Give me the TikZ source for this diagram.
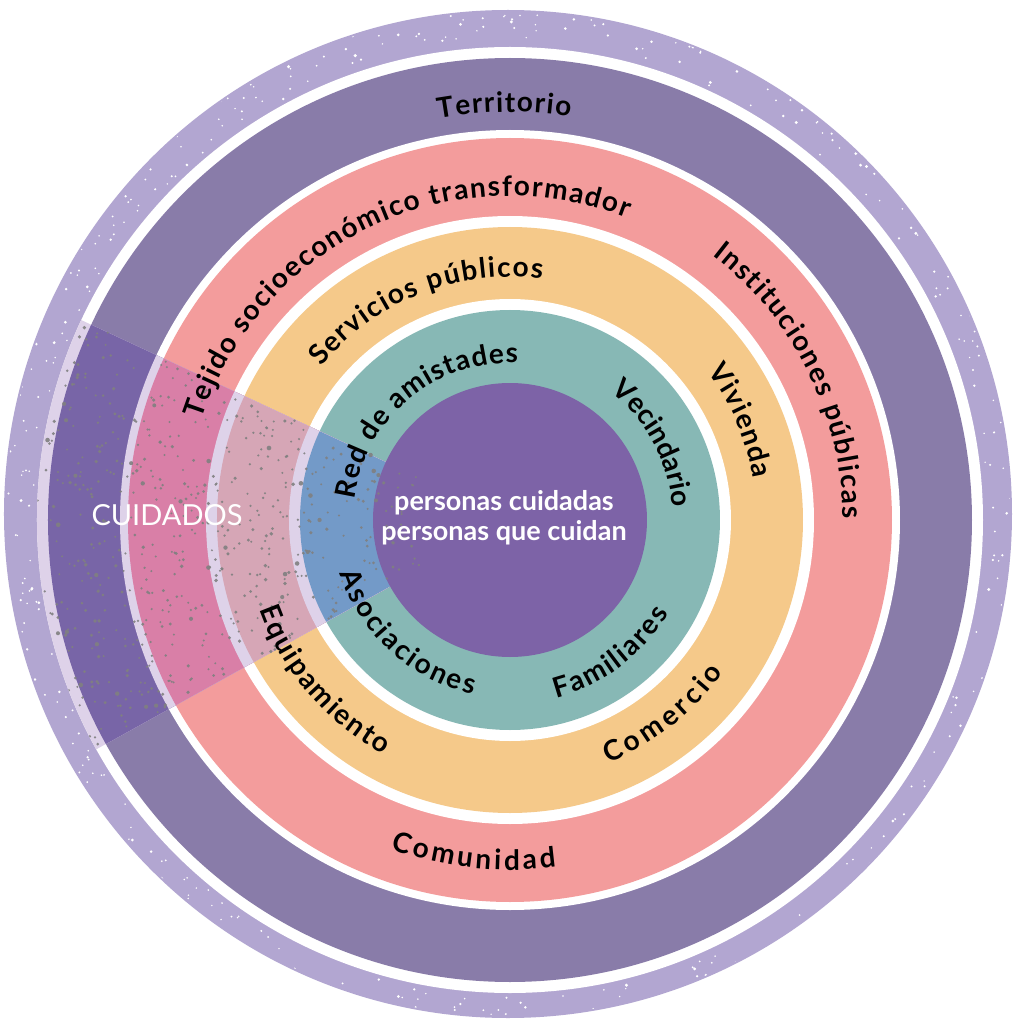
\documentclass[tikz,border=0pt]{standalone}
\usepackage{fontspec}
\setmainfont{Lato}
\usetikzlibrary{decorations.text}

\definecolor{cLight}{HTML}{B2A6D1}
\definecolor{cDark}{HTML}{897CA9}
\definecolor{cPink}{HTML}{F39C9C}
\definecolor{cYellow}{HTML}{F5C98A}
\definecolor{cTeal}{HTML}{87B8B5}
\definecolor{cCore}{HTML}{7D63A7}
\definecolor{wGap}{HTML}{DED2E9}
\definecolor{wDark}{HTML}{7865A7}
\definecolor{wPink}{HTML}{D97FA7}
\definecolor{wYellow}{HTML}{D6A6B6}
\definecolor{wTeal}{HTML}{739AC8}
\definecolor{dotGray}{HTML}{808080}

\newcommand\lblfont{\fontsize{28}{30}\selectfont\bfseries}

\tikzset{
  ringlabel/.style={decorate, decoration={text along path, text align={fit to path}, text={|\lblfont|#1}}},
  ringfill/.style={fill=#1},
  whitedot/.style={fill=white},
  graydot/.style={fill=dotGray, opacity=0.9},
  centretext/.style={inner sep=0pt, text=white, align=center, font=\fontsize{27}{30}\selectfont\bfseries},
  wedgetext/.style={inner sep=0pt, text=white, font=\fontsize{29}{30}\selectfont},
}

\begin{document}
\begin{tikzpicture}[x=1pt,y=1pt]
\useasboundingbox (-510,-501) rectangle (508,520);
\fill[white] (-510,-501) rectangle (508,520);

% rings
\fill[ringfill=cLight] (-2,6) circle[radius=504];
\fill[ringfill=white] (0,0) circle[radius=473];
\fill[ringfill=cDark] (0,0) circle[radius=462];
\fill[ringfill=white] (0,0) circle[radius=390];
\fill[ringfill=cPink] (0,0) circle[radius=382];
\fill[ringfill=white] (0,0) circle[radius=304];
\fill[ringfill=cYellow] (0,0) circle[radius=293];
\fill[ringfill=white] (0,0) circle[radius=221];
\fill[ringfill=cTeal] (0,0) circle[radius=210];

% white speckles on the outer ring
\pgfmathsetseed{7}
\begin{scope}
\clip (-2,6) circle[radius=502];
\foreach \i in {1,...,380}{
  \pgfmathsetmacro\ang{360*rnd}
  \pgfmathsetmacro\rad{477+33*rnd}
  \pgfmathsetmacro\dr{0.8+1.0*rnd*rnd}
  \fill[whitedot] (\ang:\rad) circle[radius=\dr];
}
\end{scope}

% CUIDADOS wedge
\begin{scope}
\clip (0,0) -- (155:480) arc[start angle=155,end angle=209,radius=480] -- cycle;
\fill[ringfill=wGap] (0,0) circle[radius=473];
\fill[ringfill=wDark] (0,0) circle[radius=462];
\fill[ringfill=wGap] (0,0) circle[radius=390];
\fill[ringfill=wPink] (0,0) circle[radius=382];
\fill[ringfill=wGap] (0,0) circle[radius=304];
\fill[ringfill=wYellow] (0,0) circle[radius=293];
\fill[ringfill=wGap] (0,0) circle[radius=221];
\fill[ringfill=wTeal] (0,0) circle[radius=210];
\end{scope}

% centre disc
\fill[ringfill=cCore] (0,0) circle[radius=137];

\pgfmathsetseed{11}
\begin{scope}
\clip (0,0) circle[radius=473];
\foreach \i in {1,...,580}{
  \pgfmathsetmacro\ang{155+54*rnd}
  \pgfmathsetmacro\rad{100*sqrt(1.0+21.37*rnd)}
  \pgfmathsetmacro\dr{1.1+1.3*rnd*rnd}
  \fill[graydot] (\ang:\rad) circle[radius=\dr];
}
\end{scope}

% ring labels (clockwise: tops outward)
\path[ringlabel={Territorio}] (100.1:408) arc[start angle=100.1,end angle=81.5,radius=408];
\path[ringlabel={Tejido socioeconómico transformador}] (162:324) arc[start angle=162,end angle=68.8,radius=324];
\path[ringlabel={Instituciones públicas}] (52.6:333) arc[start angle=52.6,end angle=0.3,radius=333];
\path[ringlabel={Servicios públicos}] (141:243) arc[start angle=141,end angle=82.4,radius=243];
\path[ringlabel={Vivienda}] (37:247) arc[start angle=37,end angle=9.6,radius=247];
\path[ringlabel={Red de amistades}] (172.5:157) arc[start angle=172.5,end angle=87.1,radius=157];
\path[ringlabel={Vecindario}] (52:163) arc[start angle=52,end angle=4.4,radius=163];
% ring labels (counter-clockwise: tops inward)
\path[ringlabel={Comunidad}] (250.1:350) arc[start angle=250.1,end angle=277.6,radius=350];
\path[ringlabel={Comercio}] (292:262) arc[start angle=292,end angle=324.5,radius=262];
\path[ringlabel={Equipamiento}] (199.6:266) arc[start angle=199.6,end angle=241.6,radius=266];
\path[ringlabel={Asociaciones}] (197.4:178) arc[start angle=197.4,end angle=258,radius=178];
\path[ringlabel={Familiares}] (284.5:184) arc[start angle=284.5,end angle=329.5,radius=184];

% texts
\node[centretext] (core) at (-6,2) {personas cuidadas\\personas que cuidan};
\node[wedgetext] (cuidados) at (-343,5) {CUIDADOS};
\end{tikzpicture}
\end{document}
